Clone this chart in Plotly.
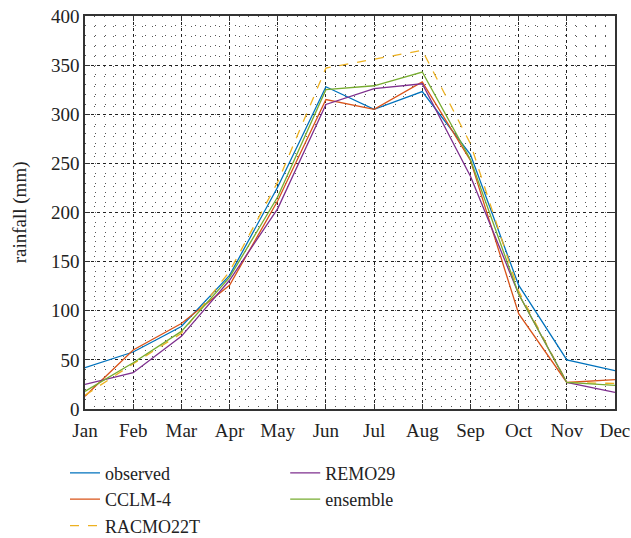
import plotly.graph_objects as go

months = ["Jan", "Feb", "Mar", "Apr", "May", "Jun", "Jul", "Aug", "Sep", "Oct", "Nov", "Dec"]
observed = [42, 58, 84, 136, 226, 328, 305, 323, 259, 126, 50, 39]
cclm4 = [13, 60, 87, 126, 212, 315, 305, 333, 253, 97, 27, 30]
racmo22t = [14, 46, 77, 140, 231, 347, 356, 365, 270, 120, 27, 26]
remo29 = [25, 37, 74, 131, 204, 310, 326, 331, 237, 117, 27, 17]
ensemble = [18, 47, 79, 134, 216, 325, 329, 343, 254, 117, 27, 24]

x = list(range(1, 13))
font_family = "Liberation Serif, DejaVu Serif, serif"

series = [
    ("observed", observed, "#0072BD", "solid", "legend"),
    ("CCLM-4", cclm4, "#D95319", "solid", "legend"),
    ("RACMO22T", racmo22t, "#EDB120", "dash", "legend"),
    ("REMO29", remo29, "#7E2F8E", "solid", "legend2"),
    ("ensemble", ensemble, "#77AC30", "solid", "legend2"),
]

fig = go.Figure()
for name, vals, color, dash, lg in series:
    fig.add_trace(go.Scatter(
        x=x, y=vals, name=name, mode="lines", legend=lg,
        line=dict(color=color, width=1.3, dash=dash),
    ))

legend_common = dict(
    orientation="v", xanchor="left", yanchor="top",
    xref="container", yref="container",
    font=dict(family=font_family, size=18, color="#222"),
    itemwidth=30, tracegroupgap=0, bgcolor="rgba(0,0,0,0)",
)

fig.update_layout(
    width=631, height=538,
    margin=dict(l=85, r=16, t=16, b=129, autoexpand=False),
    paper_bgcolor="white", plot_bgcolor="white",
    font=dict(family=font_family, size=19, color="#222"),
    showlegend=True,
    legend=dict(x=0.103, y=0.155, **legend_common),
    legend2=dict(x=0.452, y=0.155, **legend_common),
    annotations=[dict(
        text="rainfall (mm)", xref="paper", yref="paper",
        x=-0.123, y=0.5, xanchor="center", yanchor="middle",
        textangle=-90, showarrow=False,
        font=dict(family=font_family, size=19, color="#222"),
    )],
)

fig.update_xaxes(
    range=[1, 12], tickvals=x, ticktext=months, tickangle=0,
    showline=True, linecolor="#333", linewidth=1.5, mirror="ticks",
    ticks="inside", ticklen=5, tickcolor="#333", ticklabelstandoff=3,
    showgrid=True, gridcolor="#222", griddash="dot", gridwidth=1,
    minor=dict(dtick=0.2, tick0=1, showgrid=True, gridcolor="#555",
               griddash="1px,9px", gridwidth=1, ticks=""),
    zeroline=False,
)
fig.update_yaxes(
    range=[0, 400], tickvals=[0, 50, 100, 150, 200, 250, 300, 350, 400],
    showline=True, linecolor="#333", linewidth=1.5, mirror="ticks",
    ticks="inside", ticklen=5, tickcolor="#333",
    showgrid=True, gridcolor="#222", griddash="dot", gridwidth=1,
    minor=dict(dtick=10, showgrid=True, gridcolor="#555",
               griddash="1px,9px", gridwidth=1, ticks=""),
    zeroline=False,
)

fig.write_html("out.html")
